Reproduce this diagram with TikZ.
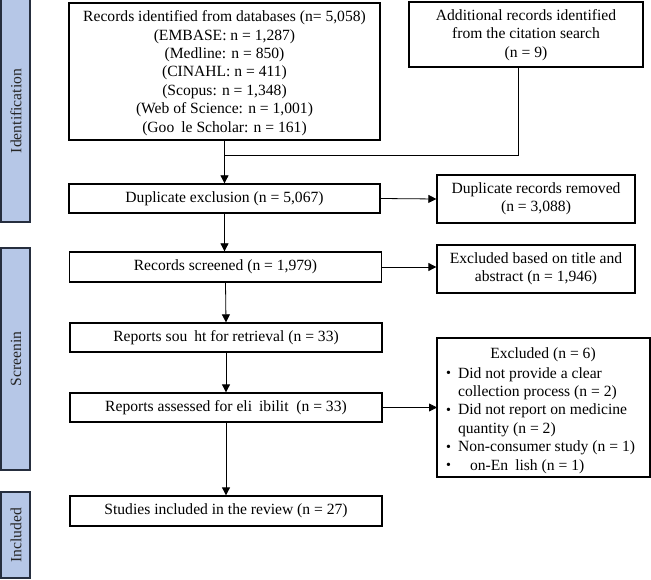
\documentclass[tikz,border=0pt]{standalone}
\usepackage{fontspec}
\setmainfont{Liberation Serif}
\usetikzlibrary{arrows.meta}
\definecolor{barfill}{RGB}{182,199,231}
\definecolor{barline}{RGB}{38,46,62}
\newcommand{\mybul}{\raisebox{0.6pt}{\fontsize{14}{14}\selectfont\textbullet}}
\begin{document}
\begin{tikzpicture}[x=1pt,y=-1pt,
  every node/.style={font=\fontsize{15.6}{18.4}\selectfont},
  box/.style={draw=black,line width=1.3pt,align=center,inner sep=0pt},
  bar/.style={draw=barline,fill=barfill,line width=1.5pt},
  barlabel/.style={rotate=90,text=black!85},
  arr/.style={-{Triangle[length=8pt,width=8pt]},line width=0.8pt},
  ln/.style={line width=0.8pt}]
\useasboundingbox (0,0) rectangle (651,580);
% side bars
\draw[bar] (1,-2) rectangle (30,222);
\draw[bar] (1,248) rectangle (30,470);
\draw[bar] (1,492) rectangle (30,578);
\node[barlabel] (lid) at (16,111) {Identification};
\node[barlabel] (lsc) at (16,359) {Screenin};
\node[barlabel] (lin) at (16,535) {Included};
% boxes
\draw[box] (69,3) rectangle (380,140);
\node[align=center] (rec) at (224.5,73) {Records identified from databases (n= 5,058)\\(EMBASE: n = 1,287)\\(Medline: n = 850)\\(CINAHL: n = 411)\\(Scopus: n = 1,348)\\(Web of Science: n = 1,001)\\(Goo\ \kern0.2em le Scholar: n = 161)};
\coordinate (recb) at (224.5,140);
\draw[box] (409,2) rectangle (643,67);
\node[align=center] (add) at (526,35) {Additional records identified\\from the citation search\\(n = 9)};
\coordinate (addb) at (518,67);
\node[box,minimum width=311pt,minimum height=29pt] (dup) at (224.5,198.5) {Duplicate exclusion (n = 5,067)};
\node[box,minimum width=198pt,minimum height=48pt] (dupr) at (536,199) {Duplicate records removed\\(n = 3,088)};
\node[box,minimum width=312pt,minimum height=30pt] (scr) at (225.5,267) {Records screened (n = 1,979)};
\node[box,minimum width=198pt,minimum height=48pt] (exta) at (536,269) {Excluded based on title and\\abstract (n = 1,946)};
\node[box,minimum width=312pt,minimum height=29pt] (sou) at (226,337.5) {Reports sou\ \kern0.2em ht for retrieval (n = 33)};
\node[box,minimum width=312pt,minimum height=29pt] (ass) at (226,407.5) {Reports assessed for eli\ \kern0.2em ibilit\ \kern0.25em (n = 33)};
\node[box,minimum width=312pt,minimum height=30pt] (inc) at (226,511) {Studies included in the review (n = 27)};
\draw[box] (437,338) rectangle (650,477);
\node (exh) at (543,355) {Excluded (n = 6)};
\node[anchor=north west,align=left,inner sep=0pt] (exl) at (446,365) {%
  \begin{tabular}{@{}l@{\hspace{7pt}}l@{}}
  \mybul & Did not provide a clear\\
   & collection process (n = 2)\\
  \mybul & Did not report on medicine\\
   & quantity (n = 2)\\
  \mybul & Non-consumer study (n = 1)\\
  \mybul & \hspace{12pt}on-En\ \kern0.2em lish (n = 1)
  \end{tabular}};
% connectors
\coordinate (join) at (224.5,155);
\draw[ln] (addb) |- (join);
\draw[arr] (recb) -- (dup.north);
\draw[arr] (dup.east) -- (dupr.west);
\draw[arr] (dup.south) -- (scr.north -| dup.south);
\draw[arr] (scr.east) -- (exta.west |- scr.east);
\draw[arr] (scr.south) -- (sou.north);
\draw[arr] (sou.south) -- (ass.north);
\draw[arr] (ass.east) -- (437,407.5);
\draw[arr] (ass.south) -- (inc.north);
\end{tikzpicture}
\end{document}
